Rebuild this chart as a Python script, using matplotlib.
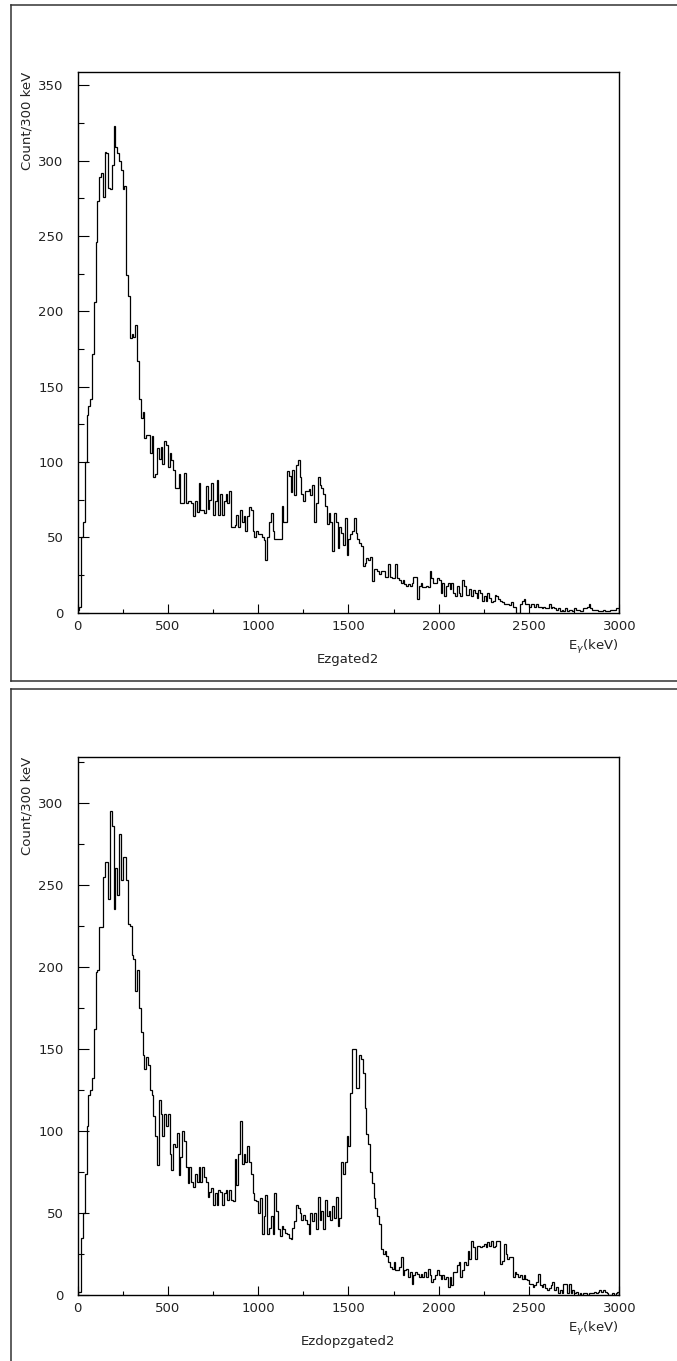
import numpy as np
import matplotlib.pyplot as plt
from matplotlib.lines import Line2D
from matplotlib.ticker import MultipleLocator

# gamma energy spectra, 10 keV bins from 0 to 3000 keV
ezgated2 = [
    2, 4, 50, 60, 100, 131, 137, 142, 172, 206,
    246, 273, 289, 292, 276, 306, 305, 282, 281, 297,
    323, 309, 305, 300, 294, 281, 283, 224, 210, 182,
    185, 183, 191, 167, 142, 129, 133, 116, 118, 118,
    106, 117, 90, 92, 109, 102, 110, 99, 114, 111,
    97, 106, 101, 95, 83, 83, 92, 73, 73, 93,
    73, 74, 74, 73, 64, 74, 67, 86, 68, 68,
    66, 84, 69, 75, 86, 65, 74, 88, 65, 79,
    65, 74, 79, 73, 81, 57, 57, 58, 65, 57,
    68, 60, 64, 54, 64, 70, 68, 54, 50, 54,
    52, 52, 50, 48, 35, 50, 60, 66, 54, 49,
    49, 49, 49, 71, 60, 60, 94, 91, 80, 95,
    78, 98, 101, 90, 79, 74, 81, 81, 82, 78,
    85, 60, 73, 90, 85, 83, 79, 71, 59, 66,
    60, 41, 66, 60, 43, 57, 53, 45, 63, 38,
    49, 52, 54, 63, 53, 49, 46, 44, 31, 33,
    36, 35, 37, 21, 29, 29, 28, 26, 28, 28,
    24, 24, 32, 24, 23, 23, 32, 23, 22, 20,
    22, 19, 18, 19, 18, 20, 24, 24, 9, 18,
    20, 17, 17, 18, 17, 28, 23, 20, 20, 23,
    22, 13, 20, 11, 18, 20, 16, 20, 13, 11,
    18, 13, 11, 22, 18, 12, 12, 16, 11, 15,
    13, 10, 15, 13, 8, 11, 8, 13, 10, 7,
    8, 12, 11, 9, 8, 7, 6, 6, 6, 5,
    7, 4, 4, 0, 0, 6, 8, 9, 6, 6,
    4, 6, 6, 4, 6, 4, 4, 3, 4, 3,
    3, 6, 3, 4, 3, 2, 3, 1, 2, 1,
    3, 1, 2, 2, 1, 3, 2, 2, 1, 1,
    3, 3, 4, 6, 3, 2, 2, 2, 1, 1,
    1, 2, 1, 1, 1, 2, 2, 2, 3, 3,
]

ezdopzgated2 = [
    2, 2, 35, 50, 74, 103, 122, 125, 132, 162,
    197, 198, 224, 224, 255, 264, 264, 241, 295, 286,
    235, 260, 244, 281, 253, 267, 267, 253, 226, 225,
    207, 205, 185, 198, 175, 160, 146, 138, 145, 140,
    125, 122, 109, 97, 79, 119, 110, 97, 110, 103,
    110, 86, 76, 92, 90, 99, 73, 84, 100, 94,
    78, 68, 78, 69, 66, 74, 69, 78, 69, 78,
    72, 69, 60, 63, 65, 55, 62, 55, 64, 63,
    55, 62, 64, 58, 64, 58, 57, 83, 67, 86,
    106, 80, 86, 81, 91, 81, 74, 62, 58, 57,
    50, 59, 37, 48, 61, 37, 41, 48, 37, 62,
    51, 40, 36, 42, 40, 38, 37, 35, 34, 41,
    45, 55, 53, 50, 46, 49, 46, 43, 37, 50,
    45, 50, 40, 60, 46, 51, 40, 58, 48, 51,
    46, 54, 47, 60, 42, 47, 81, 74, 81, 97,
    91, 123, 150, 150, 126, 126, 146, 144, 135, 114,
    98, 92, 75, 68, 59, 53, 48, 43, 28, 25,
    27, 24, 20, 17, 16, 20, 15, 15, 17, 23,
    12, 15, 16, 11, 14, 7, 12, 14, 13, 11,
    13, 11, 14, 11, 16, 12, 8, 10, 12, 15,
    12, 10, 12, 10, 11, 5, 11, 6, 14, 14,
    18, 20, 11, 15, 20, 18, 27, 22, 33, 29,
    22, 30, 30, 29, 30, 31, 29, 32, 30, 33,
    29, 30, 33, 33, 19, 21, 31, 25, 22, 23,
    23, 11, 14, 13, 11, 12, 10, 12, 10, 9,
    7, 7, 5, 6, 8, 13, 6, 5, 7, 4,
    3, 4, 6, 8, 3, 5, 1, 3, 1, 7,
    7, 1, 7, 1, 3, 1, 2, 0, 1, 0,
    1, 1, 0, 1, 1, 1, 2, 1, 2, 3,
    2, 3, 2, 1, 0, 0, 1, 0, 1, 2,
]

bin_edges = np.arange(0, 3001, 10)

W, H = 677, 1361
fig = plt.figure(figsize=(W / 100, H / 100), dpi=100)
txt = "#222222"


def fx(x):
    return x / W


def fy(y):
    return 1 - y / H


def frame_line(xs, ys):
    fig.add_artist(Line2D([fx(x) for x in xs], [fy(y) for y in ys],
                          color="#333333", lw=1.1))


# (counts, name, ymax, axes top px, axes bottom px, frame top, frame bottom)
panels = [
    (ezgated2, "Ezgated2", 359, 71.7, 612.7, 4.7, 680.7),
    (ezdopzgated2, "Ezdopzgated2", 328, 756.7, 1295.0, 689.0, None),
]

x_left, x_right = 77.5, 619.3

for counts, name, ymax, top, bottom, ftop, fbot in panels:
    ax = fig.add_axes([fx(x_left), fy(bottom), (x_right - x_left) / W, (bottom - top) / H])
    ax.stairs(counts, bin_edges, color="black", lw=0.9)
    ax.set_xlim(0, 3000)
    ax.set_ylim(0, ymax)
    ax.xaxis.set_major_locator(MultipleLocator(500))
    ax.xaxis.set_minor_locator(MultipleLocator(250))
    ax.yaxis.set_major_locator(MultipleLocator(50))
    ax.yaxis.set_minor_locator(MultipleLocator(25))
    ax.tick_params(axis="x", which="major", direction="in", length=6.5, width=0.8,
                   pad=5, labelsize=9.5, labelcolor=txt)
    ax.tick_params(axis="x", which="minor", direction="in", length=3.2, width=0.8)
    ax.tick_params(axis="y", which="major", direction="in", length=8, width=0.8,
                   pad=10, labelsize=9.5, labelcolor=txt)
    ax.tick_params(axis="y", which="minor", direction="in", length=4, width=0.8)
    for s in ax.spines.values():
        s.set_linewidth(1.0)

    fig.text(fx(27), fy(top), "Count/300 keV", rotation=90, ha="center", va="top",
             fontsize=9.5, color=txt)
    fig.text(fx(618), fy(bottom + 34), r"E$_{\gamma}$(keV)", ha="right", va="center",
             fontsize=9.5, color=txt)
    fig.text(fx((x_left + x_right) / 2), fy(bottom + 47), name, ha="center", va="center",
             fontsize=9.5, color=txt)

    # outer box around each panel
    frame_line([10.7, 10.7], [ftop, fbot if fbot else H + 5])
    frame_line([10.7, W + 5], [ftop, ftop])
    if fbot:
        frame_line([10.7, W + 5], [fbot, fbot])

fig.savefig("out.png", dpi=100)
